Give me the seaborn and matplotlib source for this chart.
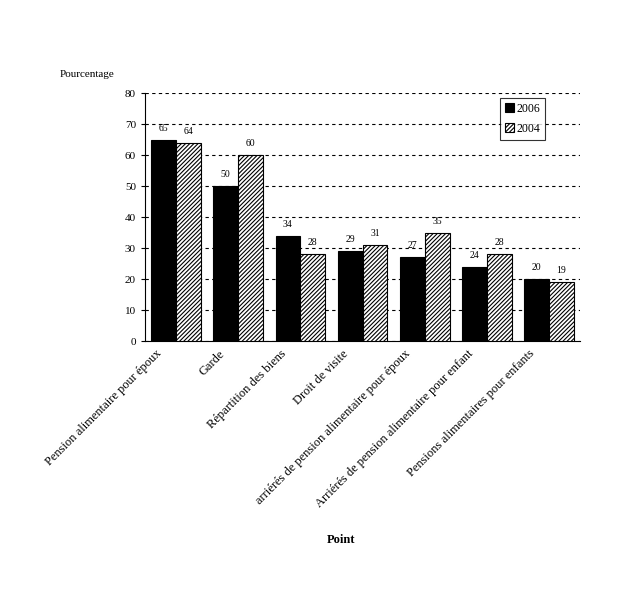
import pandas as pd
import matplotlib
matplotlib.use("Agg")
import matplotlib.pyplot as plt
import matplotlib.transforms as mtransforms
import seaborn as sns

categories = [
    "Pension alimentaire pour époux",
    "Garde",
    "Répartition des biens",
    "Droit de visite",
    "arriérés de pension alimentaire pour époux",
    "Arriérés de pension alimentaire pour enfant",
    "Pensions alimentaires pour enfants",
]
years = ["2006", "2004"]
values_2006 = [65, 50, 34, 29, 27, 24, 20]
values_2004 = [64, 60, 28, 31, 35, 28, 19]

rows = []
for cat, v6, v4 in zip(categories, values_2006, values_2004):
    rows.append({"Point": cat, "Année": "2006", "Pourcentage": v6})
    rows.append({"Point": cat, "Année": "2004", "Pourcentage": v4})
df = pd.DataFrame(rows)

sns.set_style("white")
plt.rcParams["font.family"] = ["Liberation Serif", "DejaVu Serif"]
plt.rcParams["text.color"] = "black"
plt.rcParams["axes.labelcolor"] = "black"
plt.rcParams["xtick.color"] = "black"
plt.rcParams["ytick.color"] = "black"
plt.rcParams["hatch.linewidth"] = 0.8

fig = plt.figure(figsize=(6.18, 6.04), dpi=100)
ax = fig.add_axes([0.2346, 0.4354, 0.704, 0.4106])

sns.barplot(data=df, x="Point", y="Pourcentage", hue="Année", hue_order=years,
            palette={"2006": "black", "2004": "white"}, edgecolor="black",
            linewidth=0.8, width=0.8, ax=ax, legend=True, zorder=3)

# hatch the 2004 bars
for bar in ax.containers[1]:
    bar.set_hatch("////////")

for cont in ax.containers:
    ax.bar_label(cont, padding=5, fontsize=7, color="black")

ax.set_ylim(0, 80)
ax.set_yticks(range(0, 81, 10))
ax.yaxis.grid(True, linestyle=(0, (3, 3)), color="black", linewidth=0.8)
ax.set_axisbelow(True)
ax.tick_params(axis="y", labelsize=8, length=3, direction="out", left=True)
ax.tick_params(axis="x", length=0, labelsize=9)
for s in ["top", "right"]:
    ax.spines[s].set_visible(False)
for s in ["left", "bottom"]:
    ax.spines[s].set_color("black")
    ax.spines[s].set_linewidth(0.8)

offset = mtransforms.ScaledTranslation(-0.2, -0.02, fig.dpi_scale_trans)
for lbl in ax.get_xticklabels():
    lbl.set_rotation(45)
    lbl.set_ha("right")
    lbl.set_rotation_mode("anchor")
    lbl.set_transform(lbl.get_transform() + offset)

ax.set_ylabel("")
ax.set_xlabel("Point", fontsize=9, fontweight="bold")
ax.xaxis.set_label_coords(0.45, -0.78)
fig.text(0.097, 0.876, "Pourcentage", fontsize=8, va="center")

leg = ax.legend(loc="upper right", bbox_to_anchor=(0.92, 0.98), frameon=True,
                fancybox=False, edgecolor="black", fontsize=8.5, title=None,
                handlelength=0.8, handleheight=0.8, handletextpad=0.2,
                borderpad=0.4, labelspacing=0.7, borderaxespad=0)
leg.get_frame().set_linewidth(0.8)
leg.legend_handles[1].set_hatch("////////")

fig.savefig("out.png", dpi=100, facecolor="white")
